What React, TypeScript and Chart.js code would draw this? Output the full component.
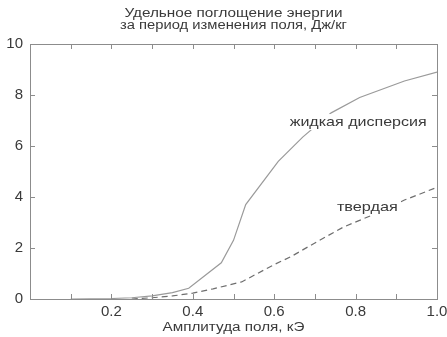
import React, { useEffect, useRef } from "react";
import { Chart, registerables } from "chart.js";

Chart.register(...registerables);

const titleLines = ["Удельное поглощение энергии", "за период изменения поля, Дж/кг"];
const xAxisTitle = "Амплитуда поля, кЭ";
const liquidLabel = "жидкая дисперсия";
const solidLabel = "твердая";

const liquidX = [0.1, 0.2, 0.25, 0.3, 0.35, 0.39, 0.47, 0.5, 0.53, 0.61, 0.67, 0.74, 0.81, 0.92, 1.0];
const liquidY = [0.0, 0.02, 0.05, 0.12, 0.25, 0.42, 1.42, 2.3, 3.7, 5.4, 6.35, 7.3, 7.9, 8.55, 8.9];

const solidX = [0.25, 0.3, 0.35, 0.4, 0.45, 0.52, 0.6, 0.64, 0.7, 0.77, 0.85, 0.92, 1.0];
const solidY = [0.0, 0.05, 0.12, 0.23, 0.4, 0.67, 1.35, 1.65, 2.2, 2.82, 3.35, 3.88, 4.38];

const xMinorTicks = [0.1, 0.2, 0.3, 0.4, 0.5, 0.6, 0.7, 0.8, 0.9];
const yMinorTicks = [2, 4, 6, 8];

const FONT = "'Liberation Sans', Arial, sans-serif";
const AXIS_COLOR = "#8c8c8c";
const TEXT_COLOR = "#3a3a3a";

// draws text stretched horizontally to a given width
function drawStretched(ctx: any, text: string, x: number, y: number, width: number, align: "left" | "center") {
  const base = ctx.measureText(text).width;
  const sx = base > 0 ? width / base : 1;
  const startX = align === "center" ? x - width / 2 : x;
  ctx.save();
  ctx.textAlign = "left";
  ctx.translate(startX, y);
  ctx.scale(sx, 1);
  ctx.fillText(text, 0, 0);
  ctx.restore();
}

const decorPlugin = {
  id: "decor",
  afterDraw(chart: any) {
    const ctx = chart.ctx;
    const { left, right, top, bottom } = chart.chartArea;
    const xs = chart.scales.x;
    const ys = chart.scales.y;
    ctx.save();
    // box
    ctx.strokeStyle = AXIS_COLOR;
    ctx.lineWidth = 1;
    ctx.strokeRect(Math.round(left) + 0.5, Math.round(top) + 0.5, Math.round(right - left), Math.round(bottom - top));
    // inner ticks
    ctx.beginPath();
    xMinorTicks.forEach((v) => {
      const px = Math.round(xs.getPixelForValue(v)) + 0.5;
      ctx.moveTo(px, bottom);
      ctx.lineTo(px, bottom - 5);
      ctx.moveTo(px, top);
      ctx.lineTo(px, top + 5);
    });
    yMinorTicks.forEach((v) => {
      const py = Math.round(ys.getPixelForValue(v)) + 0.5;
      ctx.moveTo(left, py);
      ctx.lineTo(left + 5, py);
      ctx.moveTo(right, py);
      ctx.lineTo(right - 5, py);
    });
    ctx.stroke();

    // title
    ctx.fillStyle = TEXT_COLOR;
    ctx.textBaseline = "middle";
    ctx.font = `12px ${FONT}`;
    const cx = (left + right) / 2;
    drawStretched(ctx, titleLines[0], cx, 14, 218, "center");
    drawStretched(ctx, titleLines[1], cx, 26, 227, "center");

    // x axis title
    ctx.font = `12px ${FONT}`;
    drawStretched(ctx, xAxisTitle, cx, 328, 142, "center");

    // annotations
    ctx.font = `13px ${FONT}`;
    const drawLabel = (text: string, xv: number, yv: number, w: number) => {
      const px = xs.getPixelForValue(xv);
      const py = ys.getPixelForValue(yv);
      ctx.fillStyle = "#ffffff";
      ctx.fillRect(px - 3, py - 8, w + 6, 16);
      ctx.fillStyle = TEXT_COLOR;
      drawStretched(ctx, text, px, py, w, "left");
    };
    drawLabel(liquidLabel, 0.638, 6.94, 137);
    drawLabel(solidLabel, 0.754, 3.6, 61);
    ctx.restore();
  },
};

export default function App() {
  const ref = useRef<HTMLCanvasElement | null>(null);
  useEffect(() => {
    document.body.style.margin = "0";
    if (!ref.current) return;
    const chart = new Chart(ref.current, {
      type: "line",
      data: {
        datasets: [
          {
            label: liquidLabel,
            data: liquidX.map((x, i) => ({ x, y: liquidY[i] })),
            borderColor: "#9a9a9a",
            borderWidth: 1.2,
            pointRadius: 0,
            tension: 0,
          },
          {
            label: solidLabel,
            data: solidX.map((x, i) => ({ x, y: solidY[i] })),
            borderColor: "#6e6e6e",
            borderWidth: 1.2,
            borderDash: [6, 4],
            pointRadius: 0,
            tension: 0,
          },
        ],
      },
      options: {
        responsive: false,
        animation: false,
        layout: { padding: { top: 44, right: 10, left: 0, bottom: 0 } },
        plugins: {
          legend: { display: false },
          title: { display: false },
          tooltip: { enabled: false },
        },
        scales: {
          x: {
            type: "linear",
            min: 0,
            max: 1,
            grid: { display: false, drawTicks: false },
            border: { display: false },
            ticks: {
              stepSize: 0.2,
              padding: 4,
              color: TEXT_COLOR,
              font: { family: FONT, size: 15 },
              maxRotation: 0,
              callback: (v: any) => (v === 0 ? "" : Number(v).toFixed(1)),
            },
            afterFit: (s: any) => {
              s.height = 38;
              s.paddingLeft = 0;
              s.paddingRight = 0;
            },
          },
          y: {
            min: 0,
            max: 10,
            grid: { display: false, drawTicks: false },
            border: { display: false },
            ticks: {
              stepSize: 2,
              padding: 7,
              color: TEXT_COLOR,
              font: { family: FONT, size: 15 },
            },
            afterFit: (s: any) => {
              s.width = 30;
              s.paddingTop = 0;
              s.paddingBottom = 0;
            },
          },
        },
      },
      plugins: [decorPlugin],
    });
    return () => chart.destroy();
  }, []);
  return <canvas ref={ref} width={447} height={337} />;
}
